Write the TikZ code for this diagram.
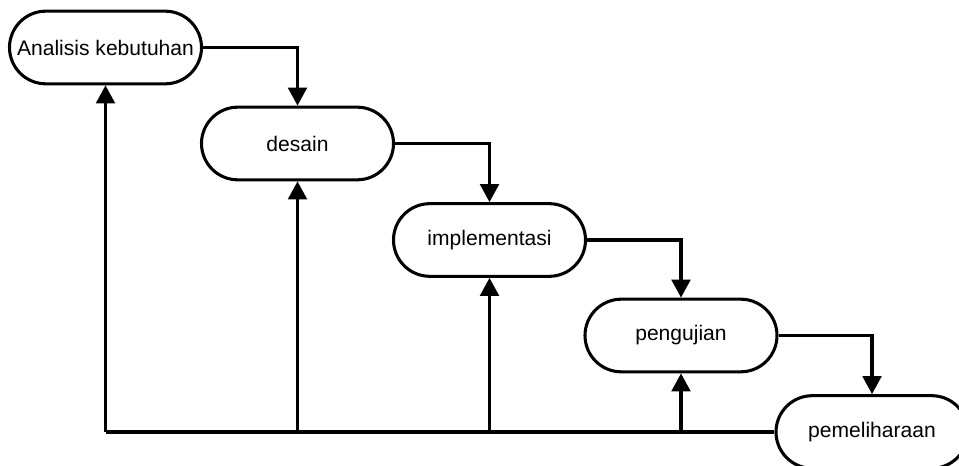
\documentclass[tikz,border=0pt]{standalone}
\usepackage{fontspec}
\setmainfont{Liberation Sans}
\usetikzlibrary{shapes.misc,arrows.meta}
\begin{document}
\begin{tikzpicture}[x=0.75pt,y=-0.75pt,
  stage/.style={rounded rectangle, draw, line width=2.3pt, fill=white,
    minimum width=144pt, minimum height=54.5pt, inner sep=0pt,
    font=\fontsize{15.8pt}{19pt}\selectfont},
  flow/.style={line width=2.3pt, -{Triangle[length=13.5pt,width=14pt]}},
  plain/.style={line width=2.3pt}]
\useasboundingbox (0,0) rectangle (959,466);
\begin{scope}
\clip (0,0) rectangle (959,466);
\node[stage] (n1) at (105.5,47.5) {Analisis kebutuhan};
\node[stage] (n2) at (297.5,143.5) {desain};
\node[stage] (n3) at (489.5,240) {implementasi};
\node[stage] (n4) at (681,335.5) {pengujian};
\node[stage] (n5) at (872,432) {pemeliharaan};
\draw[flow] (n1.east) -| (n2.north);
\draw[flow] (n2.east) -| (n3.north);
\draw[flow] (n3.east) -| (n4.north);
\draw[flow] (n4.east) -| (n5.north);
\coordinate (c1) at (n1.south |- n5.west);
\draw[plain] (n5.west) -- (c1);
\draw[flow] (c1) -- (n1.south);
\draw[flow] (n2.south |- n5.west) -- (n2.south);
\draw[flow] (n3.south |- n5.west) -- (n3.south);
\draw[flow] (n4.south |- n5.west) -- (n4.south);
\end{scope}
\end{tikzpicture}
\end{document}
